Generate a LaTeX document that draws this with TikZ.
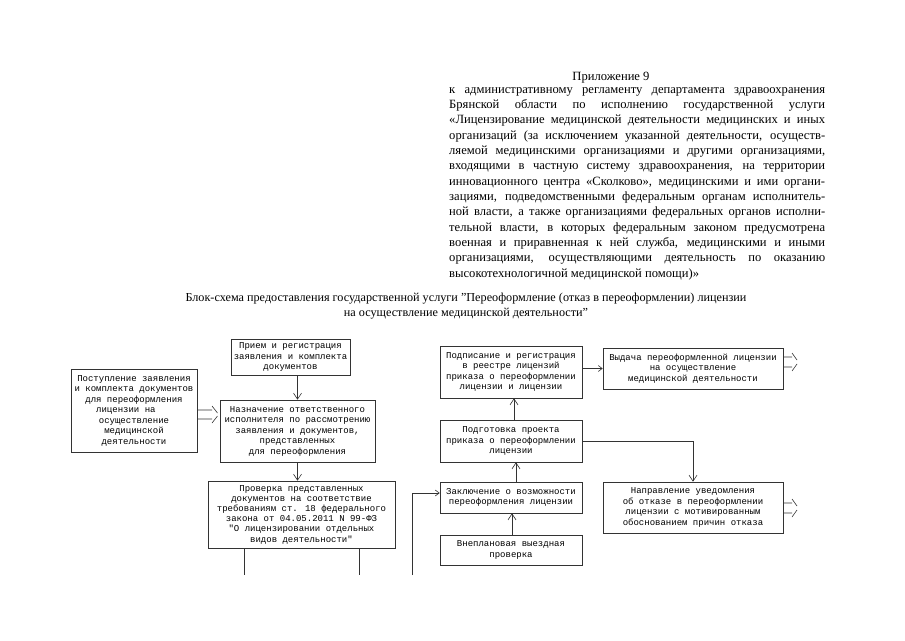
\documentclass[tikz,border=0pt]{standalone}
\usepackage{fontspec}
\setmainfont{Liberation Serif}
\newfontfamily\monofnt{Liberation Mono}
\usetikzlibrary{arrows.meta}
\newcommand\hl[1]{\makebox[376pt][s]{#1}}
\begin{document}
\begin{tikzpicture}[x=1pt,y=-1pt,
  box/.style={draw=black!80, line width=0.6pt, rectangle, inner sep=0pt, align=center,
              font=\monofnt\fontsize{9}{10.5}\selectfont},
  tightbox/.style={box, font=\monofnt\fontsize{9}{10.2}\selectfont},
  conn/.style={draw=black!80, line width=0.6pt},
  varr/.style={conn, -{Straight Barb[length=6pt,width=8pt]}},
  harr/.style={conn, -{Straight Barb[length=4pt,width=6pt]}},
  ]
\useasboundingbox[fill=white] (0,0) rectangle (905,640);

% header
\node[anchor=base, inner sep=0pt, font=\fontsize{12.6}{15.35}\selectfont] (app) at (611,80) {Приложение 9};
\node[anchor=north west, inner sep=0pt, align=left, font=\fontsize{12.6}{15.35}\selectfont] (hdr) at (449,87) {%
\hl{к административному регламенту департамента здравоохранения}\\
\hl{Брянской области по исполнению государственной услуги}\\
\hl{«Лицензирование медицинской деятельности медицинских и иных}\\
\hl{организаций (за исключением указанной деятельности, осуществ-}\\
\hl{ляемой медицинскими организациями и другими организациями,}\\
\hl{входящими в частную систему здравоохранения, на территории}\\
\hl{инновационного центра «Сколково», медицинскими и ими органи-}\\
\hl{зациями, подведомственными федеральным органам исполнитель-}\\
\hl{ной власти, а также организациями федеральных органов исполни-}\\
\hl{тельной власти, в которых федеральным законом предусмотрена}\\
\hl{военная и приравненная к ней служба, медицинскими и иными}\\
\hl{организациями, осуществляющими деятельность по оказанию}\\
высокотехнологичной медицинской помощи)»};

% title
\node[inner sep=0pt, align=center, font=\fontsize{12.2}{15}\selectfont] (ttl) at (466,306) {%
Блок-схема предоставления государственной услуги "Переоформление (отказ в переоформлении) лицензии\\
на осуществление медицинской деятельности"};

% boxes
\node[box, minimum width=119pt, minimum height=36pt] (A) at (290.5,357) {Прием и регистрация\\заявления и комплекта\\документов};
\node[box, minimum width=126pt, minimum height=83pt] (B) at (134,410.5) {Поступление заявления\\и комплекта документов\\для переоформления\\лицензии на\phantom{xxx}\\осуществление\\медицинской\\деятельности};
\node[box, minimum width=155pt, minimum height=62pt] (C) at (297.5,431) {Назначение ответственного\\исполнителя по рассмотрению\\заявления и документов,\\представленных\\для переоформления};
\node[tightbox, minimum width=187pt, minimum height=67pt] (D) at (301.5,514.5) {Проверка представленных\\документов на соответствие\\требованиям ст. 18 федерального\\закона от 04.05.2011 N 99-ФЗ\\"О лицензировании отдельных\\видов деятельности"};
\node[box, minimum width=142pt, minimum height=52pt] (E) at (511,372) {Подписание и регистрация\\в реестре лицензий\\приказа о переоформлении\\лицензии и лицензии};
\node[box, minimum width=180pt, minimum height=41pt] (F) at (693,368.5) {Выдача переоформленной лицензии\\на осуществление\\медицинской деятельности};
\node[box, minimum width=142pt, minimum height=42pt] (G) at (511,441) {Подготовка проекта\\приказа о переоформлении\\лицензии};
\node[box, minimum width=142pt, minimum height=31pt] (H) at (511,497.5) {Заключение о возможности\\переоформления лицензии};
\node[box, minimum width=142pt, minimum height=30pt] (I) at (511,550) {Внеплановая выездная\\проверка};
\node[box, minimum width=180pt, minimum height=51pt] (J) at (693,507.5) {Направление уведомления\\об отказе в переоформлении\\лицензии с мотивированным\\обоснованием причин отказа};

% connectors
\draw[varr] (A.south -| C.north) -- (C.north);
\draw[varr] (C.south) -- (C.south |- D.north);
\draw[harr] (E.east |- F.west) -- (F.west);
\draw[varr] (G.north -| 514,0) -- (E.south -| 514,0);
\draw[varr] (H.north -| 516,0) -- (G.south -| 516,0);
\draw[varr] (I.north -| 512,0) -- (H.south -| 512,0);
\draw[varr] (G.east) -- (G.east -| J.north) -- (J.north);
\coordinate (hin) at (412,575);
\draw[harr] (hin) |- (H.west |- 0,493);
\coordinate (d1) at (244,575);
\coordinate (d2) at (359,575);
\draw[conn] (D.south -| d1) -- (d1);
\draw[conn] (D.south -| d2) -- (d2);

% double arrows (typewriter style)
\coordinate (bc1) at (212,410); \coordinate (bc2) at (212,419);
\draw[conn] (B.east |- bc1) -- (bc1) (212,406) -- (217.5,413);
\draw[conn] (B.east |- bc2) -- (bc2) (212,423) -- (217.5,416);
\coordinate (f1) at (792,357); \coordinate (f2) at (792,367);
\draw[conn] (F.east |- f1) -- (f1) (792,353) -- (797,360);
\draw[conn] (F.east |- f2) -- (f2) (792,371) -- (797,364);
\coordinate (j1) at (792,503); \coordinate (j2) at (792,513);
\draw[conn] (J.east |- j1) -- (j1) (792,499) -- (797,506);
\draw[conn] (J.east |- j2) -- (j2) (792,517) -- (797,510);
\end{tikzpicture}
\end{document}
